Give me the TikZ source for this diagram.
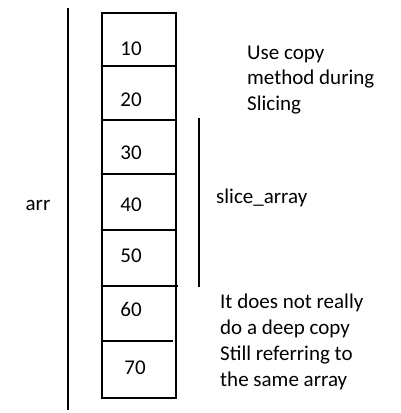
\documentclass[tikz,border=0pt]{standalone}
\usepackage{fontspec}
\setmainfont{Carlito}
\usetikzlibrary{positioning, calc}

\begin{document}
\begin{tikzpicture}[
    x=1pt, y=-1pt,
    font=\fontsize{21}{25.8}\selectfont,
    cellnum/.style={inner sep=0pt},
    note/.style={inner sep=0pt, anchor=west, align=left},
    bar/.style={line width=1.7pt},
    divider/.style={line width=1.4pt},
]
\useasboundingbox (0,0) rectangle (400,413);

% ---- columna del array ----
\draw[bar] (102,13) rectangle (176,398);
\coordinate (arrtop) at (68,8);
\coordinate (arrbot) at (68,410);
\draw[bar] (arrtop) -- (arrbot);
\node[cellnum] (arrlbl) at (38,205) {arr};

% ---- celdas ----
\foreach \v/\x/\y in {10/131/49, 20/131/100, 30/131/153, 40/131/205,
                      50/131/256, 60/131/309, 70/135/368}
    \node[cellnum] (c\v) at (\x,\y) {\v};
\foreach \y/\xr in {66/176, 120/176, 174/176, 230/176, 286/178, 341/173}
    \draw[divider] (102,\y) -- (\xr,\y);

% ---- slice ----
\coordinate (slicetop) at (199,118);
\coordinate (slicebot) at (199,287);
\draw[bar] (slicetop) -- (slicebot);
\node[note] (slicelbl) at (216,198) {slice\_array};

% ---- notas ----
\node[note] (copynote) at (247,80) {Use copy\\method during\\Slicing};
\node[note] (refnote) at (220,342) {It does not really\\do a deep copy\\Still referring to\\the same array};

\end{tikzpicture}
\end{document}
